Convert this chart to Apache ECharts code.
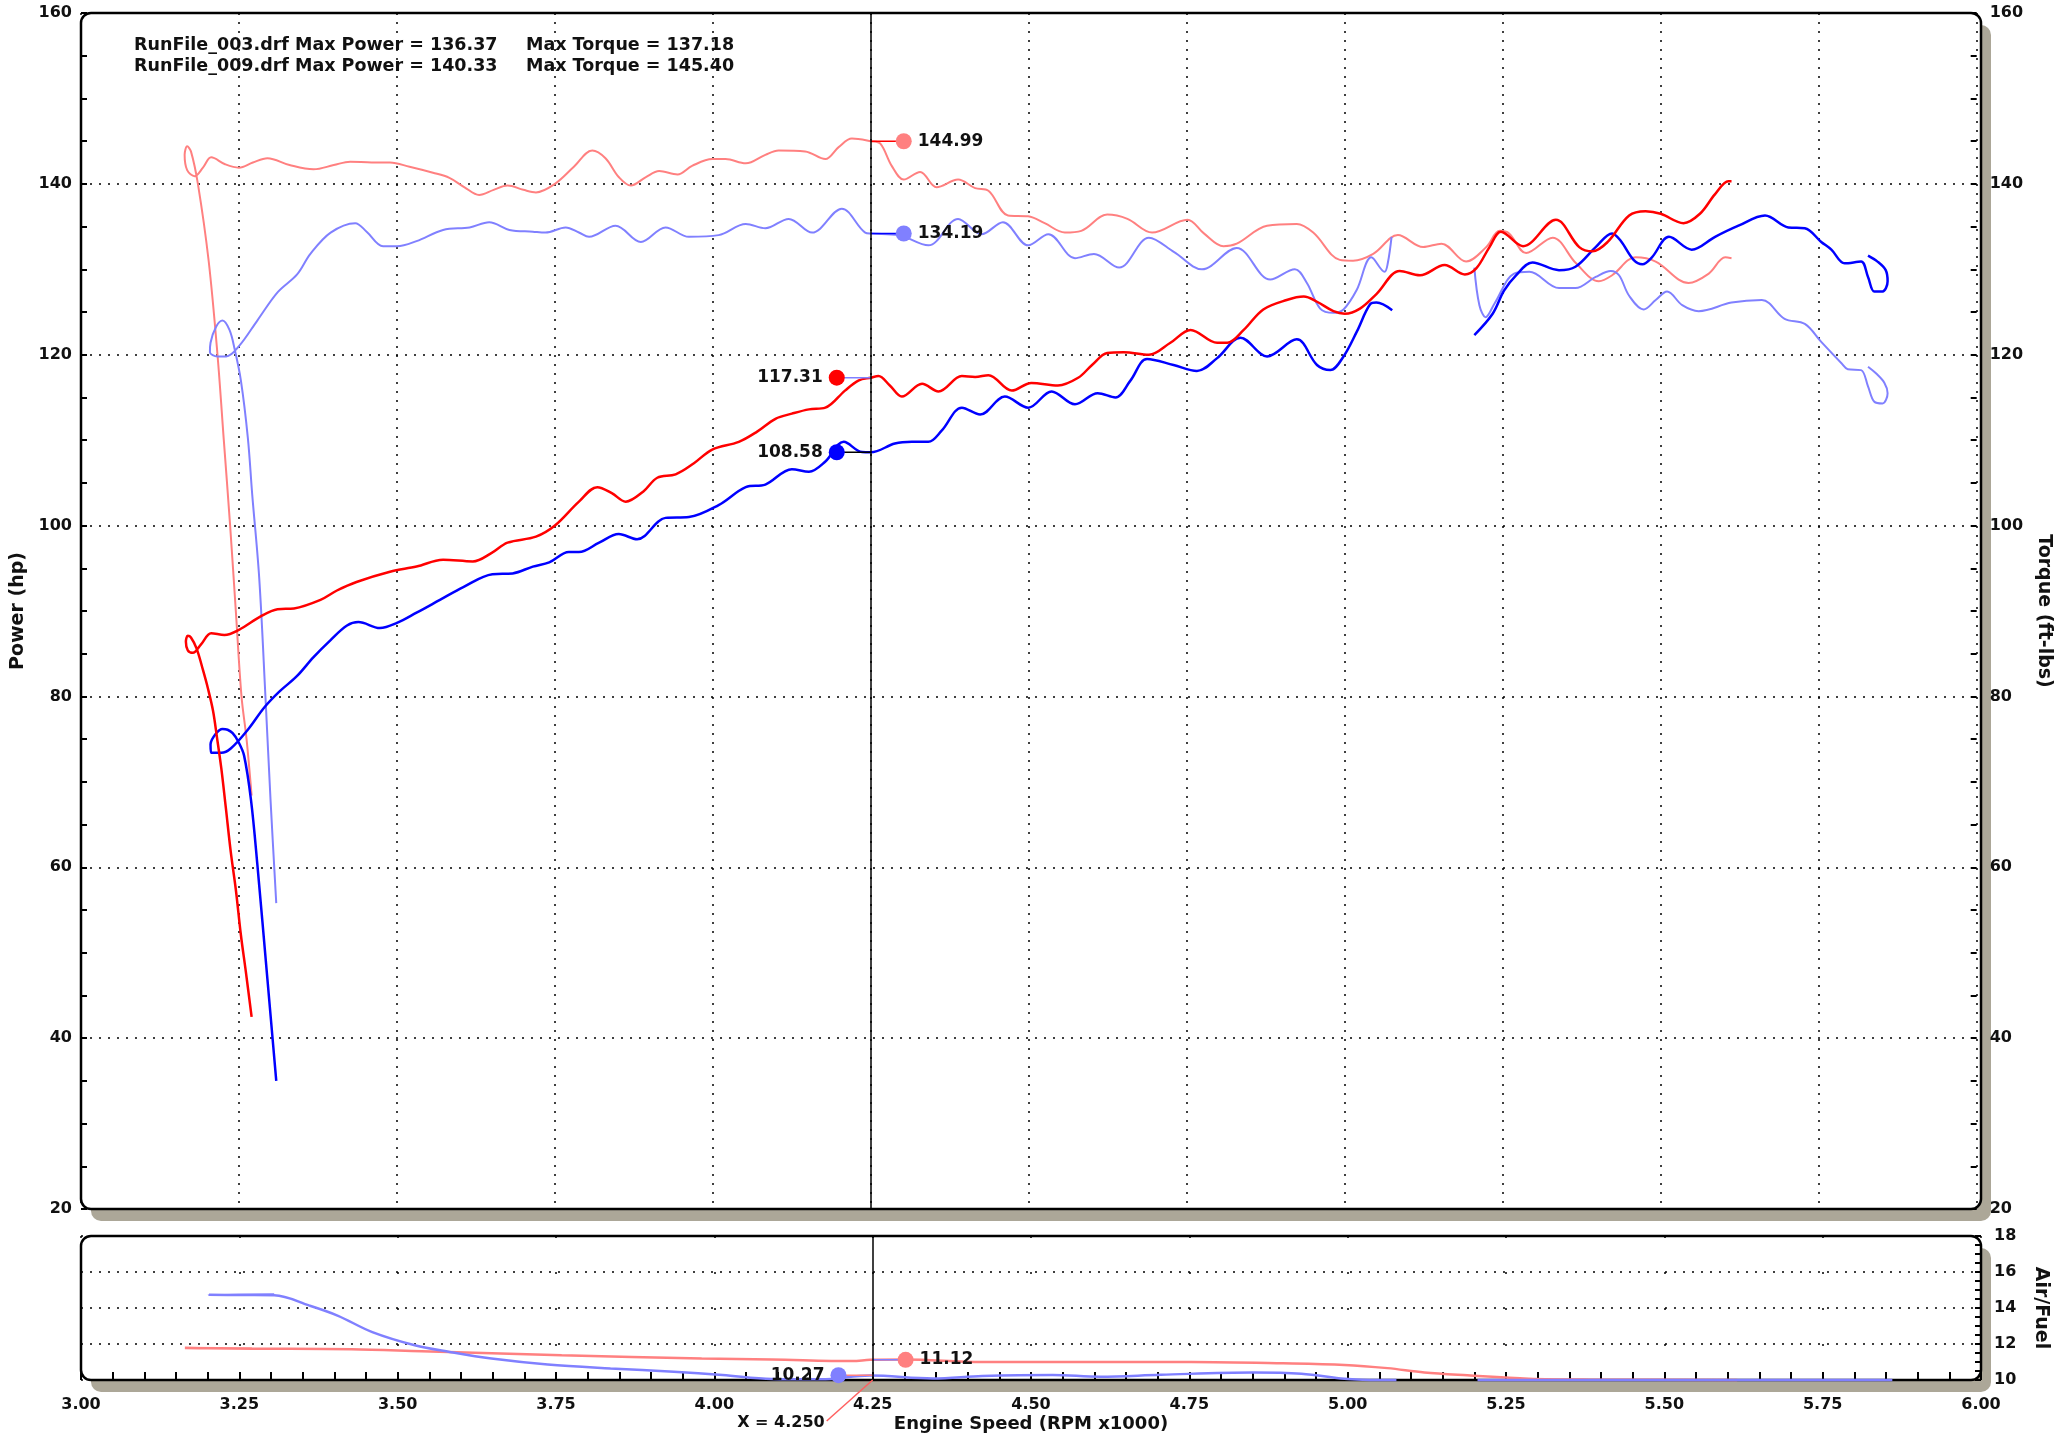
<!DOCTYPE html>
<html>
<head>
<meta charset="utf-8">
<title>Dyno runs</title>
<script src="https://cdn.jsdelivr.net/npm/echarts@6/dist/echarts.min.js"></script>
<style>
  html, body { margin: 0; padding: 0; background: #fff; }
  #chart { width: 2061px; height: 1441px; }
</style>
</head>
<body>
<div id="chart"></div>
<script>
// ---- data: [rpm x1000, value] ----
var power009 = [[3.270,42.5],[3.261,47.7],[3.253,52.1],[3.245,57.4],[3.237,61.8],[3.229,67.1],[3.222,71.6],[3.215,75.3],[3.209,78.3],[3.201,80.9],[3.193,83.1],[3.183,85.6],[3.174,86.9],[3.169,87.1],[3.166,86.4],[3.169,85.4],[3.177,85.1],[3.190,86.1],[3.206,87.4],[3.227,87.2],[3.250,87.8],[3.285,89.4],[3.311,90.2],[3.337,90.3],[3.379,91.3],[3.405,92.4],[3.436,93.4],[3.489,94.6],[3.531,95.2],[3.573,96.0],[3.620,95.8],[3.650,96.8],[3.675,98.0],[3.720,98.7],[3.750,100.0],[3.788,102.8],[3.817,104.5],[3.840,103.8],[3.862,102.8],[3.890,104.0],[3.912,105.6],[3.941,106.0],[3.970,107.3],[3.999,108.9],[4.041,109.8],[4.070,111.0],[4.099,112.5],[4.125,113.1],[4.152,113.6],[4.178,113.8],[4.209,115.8],[4.231,117.0],[4.250,117.31],[4.262,117.5],[4.280,116.4],[4.299,115.1],[4.331,116.6],[4.357,115.7],[4.394,117.5],[4.415,117.4],[4.436,117.6],[4.473,115.8],[4.504,116.7],[4.546,116.4],[4.578,117.3],[4.600,118.8],[4.624,120.2],[4.650,120.3],[4.690,120.0],[4.724,121.4],[4.756,122.9],[4.798,121.4],[4.814,121.4],[4.840,122.9],[4.871,125.3],[4.908,126.4],[4.935,126.8],[4.956,126.2],[4.982,125.1],[5.000,124.8],[5.024,125.4],[5.050,127.1],[5.087,129.8],[5.119,129.3],[5.158,130.5],[5.190,129.4],[5.208,130.1],[5.229,132.6],[5.247,134.4],[5.282,132.7],[5.334,135.8],[5.371,132.6],[5.392,132.1],[5.416,133.2],[5.450,136.3],[5.476,136.8],[5.500,136.5],[5.536,135.4],[5.562,136.5],[5.586,138.8],[5.607,140.3],[5.612,140.3]];

var torque009 = [[3.270,68.4],[3.262,75.0],[3.254,80.0],[3.245,90.0],[3.236,100.0],[3.226,110.0],[3.216,120.0],[3.202,131.0],[3.185,140.0],[3.174,143.8],[3.168,144.4],[3.164,143.4],[3.168,141.6],[3.180,140.9],[3.193,141.9],[3.206,143.1],[3.228,142.3],[3.250,141.9],[3.272,142.5],[3.295,143.0],[3.330,142.2],[3.368,141.7],[3.400,142.2],[3.426,142.6],[3.460,142.5],[3.489,142.5],[3.520,142.0],[3.557,141.3],[3.583,140.7],[3.607,139.6],[3.630,138.7],[3.653,139.3],[3.675,139.8],[3.700,139.3],[3.720,139.0],[3.750,140.0],[3.780,142.0],[3.809,143.9],[3.830,143.0],[3.851,140.8],[3.870,139.8],[3.894,140.8],[3.915,141.5],[3.944,141.1],[3.967,142.1],[3.999,142.9],[4.020,142.9],[4.052,142.4],[4.083,143.4],[4.104,143.9],[4.146,143.8],[4.178,142.9],[4.199,144.3],[4.220,145.3],[4.250,144.99],[4.265,144.7],[4.283,142.1],[4.302,140.5],[4.328,141.4],[4.354,139.6],[4.388,140.5],[4.415,139.5],[4.436,139.2],[4.467,136.3],[4.499,136.2],[4.525,135.4],[4.557,134.3],[4.583,134.5],[4.624,136.4],[4.656,135.9],[4.695,134.3],[4.751,135.8],[4.777,134.2],[4.808,132.7],[4.829,133.0],[4.877,135.1],[4.924,135.3],[4.950,134.3],[4.992,131.1],[5.013,131.0],[5.045,131.8],[5.084,134.0],[5.124,132.6],[5.153,133.0],[5.192,130.9],[5.224,132.6],[5.245,134.5],[5.260,134.2],[5.287,131.9],[5.329,133.7],[5.366,130.7],[5.402,128.6],[5.423,129.3],[5.460,131.4],[5.492,130.9],[5.544,128.4],[5.576,129.5],[5.602,131.4],[5.612,131.3]];

// run 003 has a hole in the log between 5.07 and 5.20
var power003a = [[3.309,35.0],[3.295,46.9],[3.279,60.4],[3.269,67.9],[3.258,73.1],[3.249,74.7],[3.240,75.7],[3.232,76.1],[3.224,76.2],[3.214,75.7],[3.205,74.4],[3.206,73.4],[3.222,73.4],[3.237,73.9],[3.264,76.1],[3.290,78.7],[3.313,80.5],[3.342,82.4],[3.368,84.6],[3.395,86.6],[3.421,88.3],[3.439,88.7],[3.473,88.0],[3.500,88.6],[3.531,89.8],[3.568,91.3],[3.605,92.8],[3.651,94.3],[3.683,94.4],[3.715,95.2],[3.741,95.7],[3.772,96.9],[3.788,96.9],[3.820,98.0],[3.851,99.0],[3.880,98.4],[3.925,100.9],[3.962,101.0],[4.009,102.4],[4.052,104.5],[4.083,104.8],[4.125,106.6],[4.152,106.3],[4.178,107.5],[4.207,109.8],[4.236,108.6],[4.250,108.58],[4.288,109.6],[4.315,109.8],[4.341,109.8],[4.362,111.1],[4.394,113.8],[4.423,113.0],[4.462,115.1],[4.499,113.8],[4.536,115.7],[4.573,114.2],[4.609,115.5],[4.637,115.0],[4.661,117.0],[4.687,119.5],[4.729,118.8],[4.766,118.1],[4.798,119.6],[4.835,122.0],[4.877,119.8],[4.924,121.8],[4.956,118.8],[4.977,118.2],[4.998,119.8],[5.019,122.7],[5.040,125.9],[5.050,126.1],[5.075,125.2]];
var power003b = [[5.205,122.3],[5.234,124.8],[5.252,127.5],[5.271,129.3],[5.297,130.8],[5.339,129.9],[5.365,130.3],[5.397,132.6],[5.423,134.2],[5.436,133.4],[5.457,131.1],[5.471,130.6],[5.486,131.4],[5.513,133.8],[5.549,132.3],[5.586,133.8],[5.623,135.1],[5.665,136.3],[5.702,134.9],[5.728,134.8],[5.754,133.2],[5.770,132.3],[5.791,130.7],[5.817,130.9],[5.828,129.1],[5.838,127.4],[5.851,127.4],[5.859,128.6],[5.856,129.9],[5.843,130.9],[5.828,131.6]];

var torque003a = [[3.309,55.8],[3.300,67.8],[3.292,79.8],[3.282,93.9],[3.271,103.6],[3.264,110.3],[3.253,117.0],[3.243,120.7],[3.235,122.9],[3.224,124.0],[3.214,123.3],[3.205,121.4],[3.204,120.3],[3.216,119.8],[3.230,119.8],[3.250,121.0],[3.279,124.0],[3.311,127.3],[3.342,129.4],[3.363,131.8],[3.395,134.3],[3.434,135.4],[3.452,134.4],[3.478,132.7],[3.500,132.7],[3.531,133.3],[3.573,134.6],[3.615,134.9],[3.646,135.5],[3.678,134.6],[3.715,134.4],[3.735,134.3],[3.767,134.9],[3.788,134.3],[3.804,133.8],[3.846,135.1],[3.886,133.2],[3.925,134.9],[3.962,133.8],[4.009,134.0],[4.052,135.3],[4.083,134.8],[4.120,135.9],[4.157,134.3],[4.204,137.1],[4.241,134.3],[4.250,134.19],[4.294,134.0],[4.341,132.8],[4.388,135.9],[4.425,134.1],[4.459,135.5],[4.499,132.8],[4.531,134.1],[4.573,131.3],[4.603,131.8],[4.643,130.2],[4.690,133.7],[4.730,132.0],[4.774,130.0],[4.829,132.5],[4.882,128.8],[4.921,130.0],[4.940,128.4],[4.961,125.4],[4.982,124.9],[4.998,125.3],[5.019,127.6],[5.042,131.4],[5.063,129.7],[5.068,130.7],[5.074,133.8]];
var torque003b = [[5.205,130.2],[5.213,125.8],[5.223,124.4],[5.237,126.0],[5.268,129.5],[5.292,129.7],[5.339,127.8],[5.365,127.8],[5.397,129.1],[5.421,129.8],[5.434,129.3],[5.450,126.9],[5.473,125.3],[5.492,126.4],[5.510,127.4],[5.534,125.8],[5.560,125.1],[5.612,126.1],[5.660,126.4],[5.696,124.2],[5.728,123.6],[5.754,121.5],[5.786,119.0],[5.796,118.3],[5.817,118.2],[5.828,116.3],[5.838,114.5],[5.851,114.3],[5.859,115.5],[5.854,116.7],[5.841,117.8],[5.828,118.6]];

var afr009 = [[3.270,11.75],[3.164,11.78],[3.200,11.76],[3.272,11.74],[3.427,11.71],[3.538,11.60],[3.759,11.38],[3.980,11.19],[4.091,11.14],[4.218,11.05],[4.246,11.12],[4.300,11.14],[4.423,11.00],[4.609,11.00],[4.753,11.00],[4.898,10.93],[4.995,10.84],[5.063,10.66],[5.121,10.42],[5.189,10.26],[5.286,10.07],[5.383,10.02],[5.615,10.00]];
var afr003a = [[3.305,14.75],[3.202,14.74],[3.250,14.72],[3.305,14.71],[3.361,14.13],[3.405,13.58],[3.460,12.66],[3.527,11.93],[3.582,11.56],[3.648,11.19],[3.737,10.86],[3.836,10.64],[3.936,10.46],[4.013,10.28],[4.091,10.06],[4.168,10.04],[4.246,10.25],[4.345,10.09],[4.423,10.22],[4.534,10.28],[4.609,10.18],[4.705,10.29],[4.850,10.42],[4.927,10.35],[4.995,10.07],[5.024,10.02],[5.077,10.00]];
var afr003b = [[5.205,10.00],[5.500,10.00],[5.860,10.00]];

// cursor readouts at the marked rpm (run 009 first, run 003 second)
var cursorRpm = 4.25;
var torqueReadout = [144.99, 134.19];
var powerReadout = [117.31, 108.58];
var afrReadout = [11.12, 10.27];
var headerLines = [
  ['RunFile_003.drf Max Power = 136.37', 'Max Torque = 137.18'],
  ['RunFile_009.drf Max Power = 140.33', 'Max Torque = 145.40']
];

var RED = '#ff0000', BLUE = '#0000ff', LRED = '#ff8080', LBLUE = '#8080ff';
var FONT = 'DejaVu Sans';

// layout
var GL = 81, GR = 80, PW = 2061 - GL - GR;
var MAIN_TOP = 13, MAIN_H = 1196;
var AFR_TOP = 1236, AFR_H = 144;

var chart = echarts.init(document.getElementById('chart'));

function curve(data, color, width, xi, yi) {
  return {
    type: 'line', xAxisIndex: xi, yAxisIndex: yi, data: data,
    smooth: 0.35, symbol: 'none', showSymbol: false, silent: true, clip: xi === 0,
    lineStyle: { color: color, width: width }, z: 3
  };
}

function connector(x0, x1, v, color, xi, yi) {
  return {
    type: 'line', xAxisIndex: xi, yAxisIndex: yi, data: [[x0, v], [x1, v]],
    symbol: 'none', silent: true, lineStyle: { color: color, width: 1.5 }, z: 4
  };
}

function readout(x, v, color, side, xi, yi) {
  return {
    type: 'scatter', xAxisIndex: xi, yAxisIndex: yi, data: [[x, v]],
    symbolSize: 16, itemStyle: { color: color, opacity: 1 }, silent: true, z: 5,
    label: {
      show: true, position: side, distance: 6, color: '#111',
      fontFamily: FONT, fontWeight: 'bold', fontSize: 17,
      formatter: function (p) { return p.value[1].toFixed(2); }
    }
  };
}

var dotted = { color: '#000', width: 1.5, type: [2, 7] };
var tickStyle = { color: '#000', width: 2 };
var labelStyle = { color: '#111', fontFamily: FONT, fontWeight: 'bold', fontSize: 16 };
var nameStyle = { color: '#111', fontFamily: FONT, fontWeight: 'bold', fontSize: 19 };

function panel(top, h) {
  return [
    { type: 'rect', z: -20, shape: { x: GL + 10, y: top + 12, width: PW, height: h, r: 10 }, style: { fill: '#aca798' } },
    { type: 'rect', z: -19, shape: { x: GL, y: top, width: PW, height: h, r: 10 }, style: { fill: '#fff' } },
    { type: 'rect', z: 2, shape: { x: GL, y: top, width: PW, height: h, r: 10 }, style: { fill: 'none', stroke: '#000', lineWidth: 2.5 } }
  ];
}

var cursorX = GL + (cursorRpm - 3) / 3 * PW;
var graphics = panel(MAIN_TOP, MAIN_H).concat(panel(AFR_TOP, AFR_H));
headerLines.forEach(function (ln, i) {
  var y = 45 + i * 21;
  graphics.push({ type: 'text', z: 60, x: 134, y: y, style: { text: ln[0], fill: '#111', font: 'bold 17.5px "DejaVu Sans"', verticalAlign: 'middle' } });
  graphics.push({ type: 'text', z: 60, x: 526, y: y, style: { text: ln[1], fill: '#111', font: 'bold 17.5px "DejaVu Sans"', verticalAlign: 'middle' } });
});
graphics.push({ type: 'line', z: 60, shape: { x1: cursorX - 46, y1: 1421, x2: cursorX, y2: AFR_TOP + AFR_H }, style: { stroke: '#ff6060', lineWidth: 1.5 } });
graphics.push({ type: 'text', z: 60, x: cursorX - 48, y: 1423, style: { text: 'X = 4.250', fill: '#111', font: 'bold 16px "DejaVu Sans"', align: 'right', verticalAlign: 'middle' } });

var cursorLine = {
  silent: true, symbol: 'none', label: { show: false },
  lineStyle: { color: '#000', type: 'solid', width: 1.5 },
  data: [{ xAxis: cursorRpm }]
};

var rightOff = 0.052, leftOff = 0.054;

var series = [
  curve(torque009, LRED, 2, 0, 1),
  curve(torque003a, LBLUE, 2, 0, 1),
  curve(torque003b, LBLUE, 2, 0, 1),
  curve(power003a, BLUE, 2.5, 0, 0),
  curve(power003b, BLUE, 2.5, 0, 0),
  curve(power009, RED, 2.5, 0, 0),
  curve(afr009, LRED, 2.5, 1, 2),
  curve(afr003a, LBLUE, 2.5, 1, 2),
  curve(afr003b, LBLUE, 2.5, 1, 2),
  connector(cursorRpm, cursorRpm + rightOff, torqueReadout[0], RED, 0, 1),
  connector(cursorRpm, cursorRpm + rightOff, torqueReadout[1], BLUE, 0, 1),
  connector(cursorRpm - leftOff, cursorRpm, powerReadout[0], LBLUE, 0, 0),
  connector(cursorRpm - leftOff, cursorRpm, powerReadout[1], '#000', 0, 0),
  connector(cursorRpm, cursorRpm + rightOff, afrReadout[0], LBLUE, 1, 2),
  connector(cursorRpm - leftOff, cursorRpm, afrReadout[1], LRED, 1, 2),
  readout(cursorRpm + rightOff, torqueReadout[0], LRED, 'right', 0, 1),
  readout(cursorRpm + rightOff, torqueReadout[1], LBLUE, 'right', 0, 1),
  readout(cursorRpm - leftOff, powerReadout[0], RED, 'left', 0, 0),
  readout(cursorRpm - leftOff, powerReadout[1], BLUE, 'left', 0, 0),
  readout(cursorRpm + rightOff, afrReadout[0], LRED, 'right', 1, 2),
  readout(cursorRpm - leftOff, afrReadout[1], LBLUE, 'left', 1, 2)
];
series[5].markLine = cursorLine;
series[6].markLine = cursorLine;

chart.setOption({
  animation: false,
  backgroundColor: '#fff',
  grid: [
    { left: GL, right: GR, top: MAIN_TOP, height: MAIN_H },
    { left: GL, right: GR, top: AFR_TOP, height: AFR_H }
  ],
  xAxis: [
    {
      type: 'value', gridIndex: 0, min: 3, max: 6, interval: 0.25,
      axisLine: { show: false }, axisTick: { show: false }, axisLabel: { show: false },
      splitLine: { show: true, lineStyle: dotted }
    },
    {
      type: 'value', gridIndex: 1, min: 3, max: 6, interval: 0.25,
      name: 'Engine Speed (RPM x1000)', nameLocation: 'middle', nameGap: 35, nameTextStyle: { color: '#111', fontFamily: FONT, fontWeight: 'bold', fontSize: 18 },
      axisLine: { show: false },
      axisTick: { show: true, inside: true, length: 8, lineStyle: tickStyle },
      minorTick: { show: true, splitNumber: 5, length: 8, lineStyle: tickStyle },
      axisLabel: Object.assign({ margin: 17, showMinLabel: true, showMaxLabel: true, formatter: function (v) { return v.toFixed(2); } }, labelStyle),
      splitLine: { show: true, lineStyle: { color: '#000', width: 1.5, type: [2, 34] } }
    }
  ],
  yAxis: [
    {
      type: 'value', gridIndex: 0, position: 'left', min: 20, max: 160, interval: 20,
      name: 'Power (hp)', nameLocation: 'middle', nameGap: 50, nameRotate: 90, nameTextStyle: nameStyle,
      axisLine: { show: false },
      axisTick: { show: true, inside: true, length: 6, lineStyle: tickStyle },
      minorTick: { show: true, splitNumber: 4, length: 6, lineStyle: tickStyle },
      axisLabel: Object.assign({ margin: 9 }, labelStyle),
      splitLine: { show: true, lineStyle: dotted }
    },
    {
      type: 'value', gridIndex: 0, position: 'right', min: 20, max: 160, interval: 20,
      name: 'Torque (ft-lbs)', nameLocation: 'middle', nameGap: 50, nameRotate: -90, nameTextStyle: nameStyle,
      axisLine: { show: false },
      axisTick: { show: true, inside: true, length: 6, lineStyle: tickStyle },
      minorTick: { show: true, splitNumber: 4, length: 6, lineStyle: tickStyle },
      axisLabel: Object.assign({ margin: 13 }, labelStyle),
      splitLine: { show: false }
    },
    {
      type: 'value', gridIndex: 1, position: 'right', min: 10, max: 18, interval: 2,
      name: 'Air/Fuel', nameLocation: 'middle', nameGap: 50, nameRotate: -90, nameTextStyle: nameStyle,
      axisLine: { show: false },
      axisTick: { show: true, inside: true, length: 6, lineStyle: tickStyle },
      minorTick: { show: true, splitNumber: 4, length: 6, lineStyle: tickStyle },
      axisLabel: Object.assign({ margin: 13 }, labelStyle),
      splitLine: { show: true, lineStyle: dotted }
    }
  ],
  graphic: graphics,
  series: series
});
</script>
</body>
</html>
